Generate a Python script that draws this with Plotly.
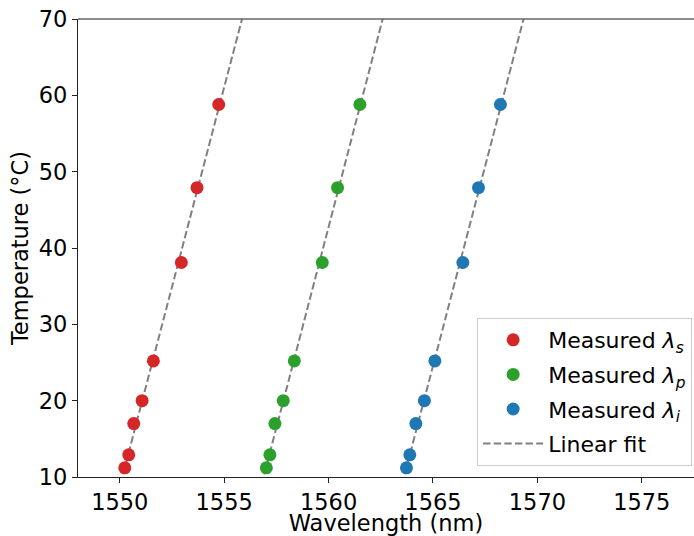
import numpy as np
import plotly.graph_objects as go

temperature = [11.2, 12.9, 17.0, 20.0, 25.2, 38.1, 47.9, 58.8]
lambda_s = [1550.24, 1550.43, 1550.67, 1551.07, 1551.61, 1552.95, 1553.70, 1554.74]
lambda_p = [1557.02, 1557.19, 1557.43, 1557.83, 1558.36, 1559.70, 1560.43, 1561.50]
lambda_i = [1563.73, 1563.89, 1564.18, 1564.59, 1565.09, 1566.43, 1567.18, 1568.23]

series_names = ["Measured <i>λ</i><sub><i>s</i></sub>", "Measured <i>λ</i><sub><i>p</i></sub>", "Measured <i>λ</i><sub><i>i</i></sub>"]
series_colors = ["#d62728", "#2ca02c", "#1f77b4"]
fit_T = [5.0, 75.0]

FONT = "DejaVu Sans"
FS = 22.5
fig = go.Figure()

for k, lam in enumerate([lambda_s, lambda_p, lambda_i]):
    coef = np.polyfit(temperature, lam, 1)
    fx = np.polyval(coef, fit_T)
    fig.add_trace(go.Scatter(
        x=fx, y=fit_T, mode="lines",
        line=dict(color="#808080", dash="7.4px,3.2px", width=2),
        name="Linear fit", showlegend=(k == 0), legendrank=10,
        legendgroup="fit", hoverinfo="skip"))

for j, (lam, name, col) in enumerate(zip([lambda_s, lambda_p, lambda_i], series_names, series_colors)):
    fig.add_trace(go.Scatter(
        x=lam, y=temperature, mode="markers",
        marker=dict(color=col, size=13, line=dict(width=0)),
        name=name, legendrank=1 + j, legendgroup="g%d" % j))

fig.add_shape(type="line", xref="paper", yref="paper", x0=0, x1=1, y0=1, y1=1,
              line=dict(color="#666666", width=1.6))

fig.update_layout(
    width=694, height=536,
    margin=dict(l=78, r=0, t=19, b=59),
    plot_bgcolor="white", paper_bgcolor="white",
    font=dict(family=FONT, size=FS, color="black"),
    showlegend=True,
    legend=dict(
        x=0.997, xanchor="right", y=0.024, yanchor="bottom",
        bgcolor="white", bordercolor="#cccccc", borderwidth=1,
        font=dict(family=FONT, size=22, color="black"),
        itemwidth=60, traceorder="grouped", tracegroupgap=3,
    ),
    xaxis=dict(
        range=[1548.0, 1577.5], tickvals=[1550, 1555, 1560, 1565, 1570, 1575],
        showgrid=False, zeroline=False, showline=True, linecolor="#222222", linewidth=1.2,
        ticks="outside", ticklen=5, tickcolor="#222222",
        title=dict(text="Wavelength (nm)", standoff=6, font=dict(family=FONT, size=FS)),
        tickfont=dict(family=FONT, size=FS),
    ),
    yaxis=dict(
        range=[10, 70], tickvals=[10, 20, 30, 40, 50, 60, 70],
        showgrid=False, zeroline=False, showline=True, linecolor="#222222", linewidth=1.2,
        ticks="outside", ticklen=5, tickcolor="#222222",
        title=dict(text="Temperature (°C)", standoff=3, font=dict(family=FONT, size=FS)),
        tickfont=dict(family=FONT, size=FS),
    ),
)

fig.write_html("out.html")
